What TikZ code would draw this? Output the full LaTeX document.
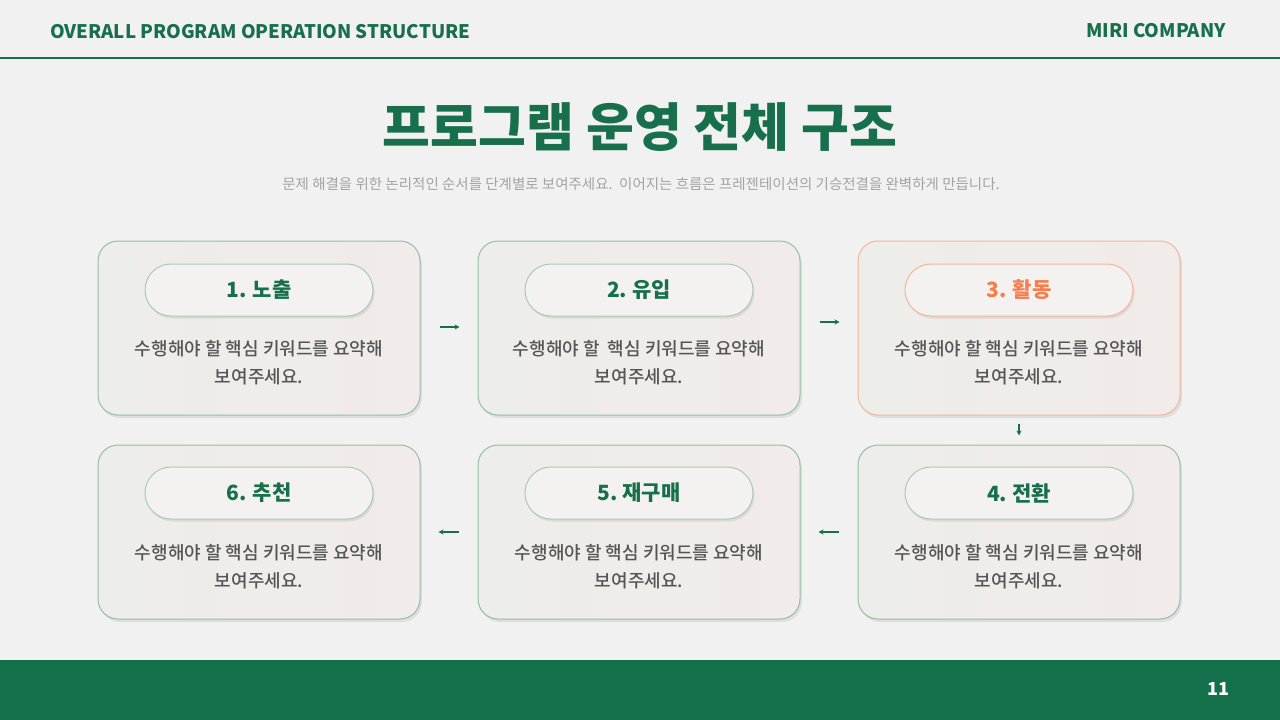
\documentclass[tikz,border=0pt]{standalone}
\usepackage{fontspec}
\setmainfont{Noto Sans CJK KR}
\newfontfamily\titlefont{Noto Sans CJK KR}[UprightFont={* Black}]
\newfontfamily\medfont{Noto Sans CJK KR}[UprightFont={* Medium}]
\usetikzlibrary{shadows,arrows.meta}
\definecolor{bgc}{HTML}{F2F1F1}
\definecolor{grn}{HTML}{17704B}
\definecolor{foot}{HTML}{13704A}
\definecolor{boxborder}{HTML}{93BFA7}
\definecolor{pillborder}{HTML}{A8CBB8}
\definecolor{orn}{HTML}{F57D4E}
\definecolor{ornborder}{HTML}{F6B59A}
\definecolor{bodytxt}{HTML}{555555}
\definecolor{subtxt}{HTML}{A3A3A3}
\definecolor{boxL}{HTML}{EDEDE9}
\definecolor{boxR}{HTML}{F1EBE9}
\definecolor{pillfill}{HTML}{F4F2F0}
\tikzset{
  stagebox/.style={rectangle, rounded corners=20pt, minimum width=322pt, minimum height=174pt,
    draw=boxborder, line width=1pt, left color=boxL, right color=boxR,
    drop shadow={shadow xshift=2pt, shadow yshift=-3pt, opacity=0.08, fill=black}},
  hotbox/.style={stagebox, draw=ornborder},
  pill/.style={rectangle, rounded corners=26pt, minimum width=228pt, minimum height=52pt,
    draw=pillborder, line width=1pt, fill=pillfill, text=grn,
    font=\fontsize{21}{24}\selectfont\bfseries,
    drop shadow={shadow xshift=1.5pt, shadow yshift=-2.5pt, opacity=0.08, fill=black}},
  hotpill/.style={pill, draw=ornborder, text=orn},
  bodytext/.style={align=center, text=bodytxt, font=\medfont\fontsize{18}{28}\selectfont, inner sep=0pt},
  conn/.style={draw=grn, line width=1.3pt, -{Stealth[length=5pt,width=5pt]}}
}
\begin{document}
\begin{tikzpicture}[x=1pt,y=-1pt]
\useasboundingbox (0,0) rectangle (1280,720);
\fill[bgc] (0,0) rectangle (1280,720);
% header
\node[anchor=west, text=grn, font=\fontsize{18.7}{20}\selectfont\bfseries, inner sep=0pt] (hdr) at (50,32) {OVERALL PROGRAM OPERATION STRUCTURE};
\node[anchor=east, text=grn, font=\fontsize{18.7}{20}\selectfont\bfseries, inner sep=0pt] (comp) at (1226,31) {MIRI COMPANY};
\draw[grn, line width=1.3pt] (0,58) -- (1280,58);
% title
\node[text=grn, font=\titlefont\fontsize{52}{56}\selectfont, inner sep=0pt] (title) at (640,127) {프로그램 운영 전체 구조};
\node[text=subtxt, font=\fontsize{14.5}{16}\selectfont, inner sep=0pt] (sub) at (641,184) {문제 해결을 위한 논리적인 순서를 단계별로 보여주세요.\ \ 이어지는 흐름은 프레젠테이션의 기승전결을 완벽하게 만듭니다.};
% boxes
\node[stagebox] (b1) at (259,328) {};
\node[stagebox] (b2) at (639,328) {};
\node[hotbox] (b3) at (1019,328) {};
\node[stagebox] (b4) at (1019,532) {};
\node[stagebox] (b5) at (639,532) {};
\node[stagebox] (b6) at (259,532) {};
% pills
\node[pill] (p1) at (259,290) {1. 노출};
\node[pill] (p2) at (639,290) {2.\ 유입};
\node[hotpill] (p3) at (1019,290) {3. 활동};
\node[pill] (p4) at (1019,493) {4.\ 전환};
\node[pill] (p5) at (639,493) {5.\ 재구매};
\node[pill] (p6) at (259,493) {6. 추천};
% body texts
\node[bodytext] (t1) at (259,363) {수행해야 할 핵심 키워드를 요약해\\보여주세요.};
\node[bodytext] (t2) at (639,363) {수행해야 할\ \ 핵심 키워드를 요약해\\보여주세요.};
\node[bodytext] (t3) at (1019,363) {수행해야 할 핵심 키워드를 요약해\\보여주세요.};
\node[bodytext] (t4) at (1019,567) {수행해야 할 핵심 키워드를 요약해\\보여주세요.};
\node[bodytext] (t5) at (639,567) {수행해야 할 핵심 키워드를 요약해\\보여주세요.};
\node[bodytext] (t6) at (259,567) {수행해야 할 핵심 키워드를 요약해\\보여주세요.};
% connectors
\draw[conn, shorten <=19pt, shorten >=18pt] ([yshift=1pt]b1.east) -- ([yshift=1pt]b2.west);
\draw[conn, shorten <=19pt, shorten >=18pt] ([yshift=6pt]b2.east) -- ([yshift=6pt]b3.west);
\draw[conn, shorten <=8pt, shorten >=9pt] (b3.south) -- (b4.north);
\draw[conn, shorten <=19pt, shorten >=18pt] (b4.west) -- (b5.east);
\draw[conn, shorten <=19pt, shorten >=18pt] (b5.west) -- (b6.east);
% footer
\fill[foot] (0,660) rectangle (1280,720);
\node[text=white, font=\fontsize{18}{20}\selectfont\bfseries, inner sep=0pt] (pg) at (1218,689) {11};
\end{tikzpicture}
\end{document}
